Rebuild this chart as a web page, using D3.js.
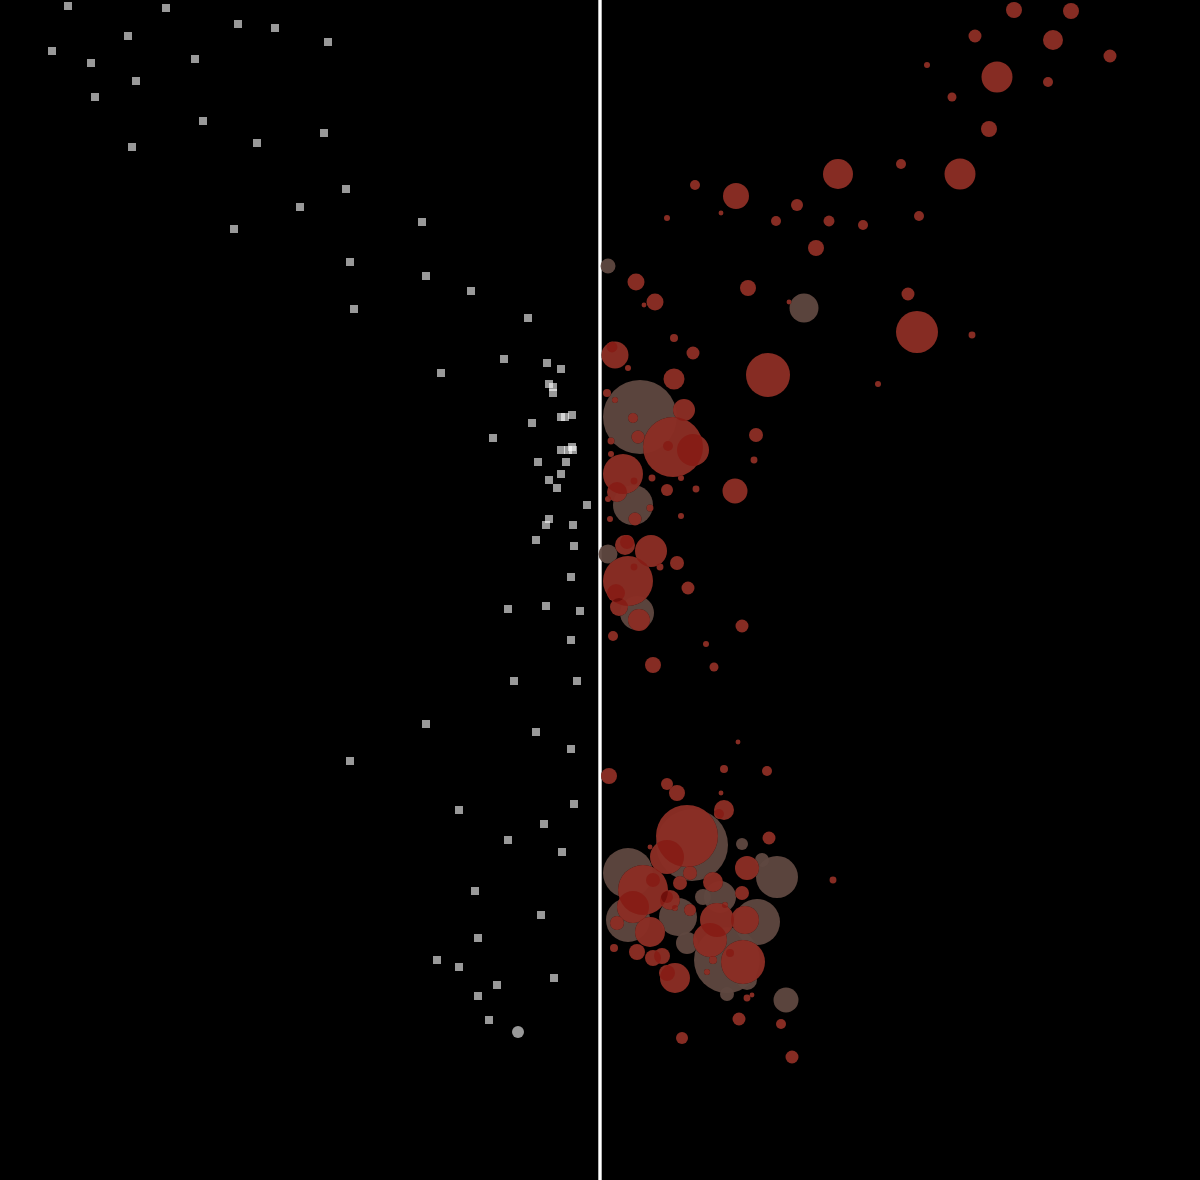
<!DOCTYPE html>
<html>
<head>
<meta charset="utf-8">
<script src="https://cdn.jsdelivr.net/npm/d3@7"></script>
<style>
  html, body { margin: 0; padding: 0; background: #000; }
  svg { display: block; background: #000; }
</style>
</head>
<body>
<svg id="chart" width="1200" height="1180"></svg>
<script>
// ---- data (x: signed offset from the centre axis, y: position down the page) ----
const leftX = [-53.2,-43.4,-36.2,-32.5,-47.2,-54.8,-50.9,-40.5,-27.2,-46.4,-50.5,-39.7,-27.6,-34.3,-46.8,-25.4,-30.0,-36.6,-25.0,-24.6,
  -17.8,-17.4,-12.9,-7.2,-9.6,-5.3,-3.9,-15.9,-5.1,-4.7,-4.7,-3.9,-3.5,-2.8,-6.8,-10.7,-3.9,-2.8,-2.7,-3.2,
  -6.2,-3.4,-3.9,-5.1,-4.3,-1.3,-5.1,-5.4,-2.7,-6.4,-2.6,-2.9,-9.2,-5.4,-2.0,-2.9,-8.6,-2.3,-17.4,-6.4,
  -2.9,-25.0,-14.1,-2.6,-5.6,-9.2,-3.8,-12.5,-5.9,-12.2,-16.3,-14.1,-10.3,-4.6,-12.2,-11.1];
const leftY = [0.6,0.8,2.4,2.8,3.6,5.1,6.3,5.9,4.2,8.1,9.7,12.1,13.3,14.3,14.7,18.9,20.7,22.9,26.2,30.9,
  22.2,27.6,29.1,31.8,35.9,36.3,36.9,37.3,38.4,38.7,39.3,41.7,41.7,41.5,42.3,43.8,45.0,44.7,45.0,45.0,
  46.2,46.2,47.4,48.0,48.8,50.5,51.9,52.5,52.5,54.0,54.6,57.7,60.9,60.6,61.1,64.0,68.1,68.1,72.4,73.2,
  74.9,76.1,81.0,80.4,82.4,84.0,85.2,89.1,91.5,93.8,96.0,96.7,98.5,97.8,99.6,102.0];
const leftDotX = [-8.2];
const leftDotY = [103.2];

const redX = [41.4,47.1,37.5,45.3,51.0,32.7,39.7,44.8,35.2,38.9,23.8,30.1,36.0,9.5,13.6,6.7,12.1,19.7,17.6,22.9,
  26.3,31.9,21.6,3.6,5.5,4.4,14.8,18.9,30.8,31.7,37.2,27.8,16.8,7.4,9.3,1.5,1.2,2.8,7.4,0.7,
  1.5,8.4,3.3,3.8,1.1,1.1,7.3,9.3,6.8,15.6,15.4,2.3,1.7,3.4,5.2,8.1,6.7,9.6,13.5,0.8,
  5.0,1.0,3.5,8.1,2.5,2.7,5.1,3.4,6.0,7.7,2.8,1.6,1.9,3.9,8.8,1.3,14.2,10.6,5.3,11.4,
  0.9,13.8,12.4,16.7,6.7,7.7,12.1,12.4,11.9,8.7,16.9,23.3,14.7,4.3,6.7,3.3,1.7,5.0,7.0,5.3,
  9.0,8.0,11.3,14.5,11.7,11.0,14.3,7.5,6.7,3.7,5.3,6.2,1.4,14.7,15.2,13.9,18.1,8.2,19.2,10.7,
  5.0,14.2,9.0,12.5,7.5,6.7,13.0,11.3];
const redY = [1.0,1.1,3.6,4.0,5.6,6.5,7.7,8.2,9.7,12.9,17.4,16.4,17.4,18.5,19.6,21.8,21.3,20.5,22.1,22.1,
  22.5,21.6,24.8,28.2,30.2,30.5,28.8,30.2,29.4,33.2,33.5,38.4,37.5,33.8,35.3,35.5,34.7,36.8,37.9,39.3,
  40.0,41.0,41.8,43.7,44.1,45.4,44.7,45.0,44.6,43.5,46.0,47.4,49.2,48.1,47.8,47.8,49.0,48.9,49.1,49.9,
  50.8,51.9,51.9,51.6,54.5,54.2,55.1,56.7,56.7,56.3,58.1,59.3,60.7,62.0,58.8,63.6,62.6,64.4,66.5,66.7,
  77.6,74.2,76.9,77.1,78.4,79.3,79.3,81.0,81.4,83.6,83.8,88.0,86.8,89.0,85.7,90.7,92.3,93.2,90.0,88.0,
  87.3,88.3,88.2,92.0,92.0,94.0,96.2,97.8,97.3,95.2,95.8,95.6,94.8,99.8,99.5,101.9,102.4,103.8,105.7,97.2,
  84.7,89.3,91.0,90.5,90.8,89.7,95.3,96.0];
const redSize = [64,64,42,100,42,9,240,25,20,64,225,25,240,25,169,9,6,36,25,30,
  25,25,64,72,72,6,64,6,42,441,12,9,484,16,42,182,30,9,110,16,
  9,121,25,42,12,9,900,256,25,49,12,400,100,12,12,9,36,12,156,9,
  12,9,42,9,100,49,256,12,12,49,625,81,81,121,42,25,42,9,64,20,
  64,6,16,25,36,64,6,100,25,961,42,12,144,625,289,256,49,225,100,49,
  49,49,100,196,289,289,484,225,64,64,64,64,16,12,6,42,25,36,42,9,
  6,49,36,9,9,36,16,16];

const brownX = [0.8,20.4,4.0,3.3,0.8,3.7,9.2,14.2,2.8,17.7,16.2,2.8,7.8,10.3,12.0,15.7,8.7,12.7,12.7,18.6,14.7];
const brownY = [26.6,30.8,41.7,50.5,55.4,61.3,84.5,84.4,87.3,87.7,86.0,92.0,91.7,89.7,89.7,92.2,94.3,96.0,99.4,100.0,98.0];
const brownSize = [56,210,1369,400,90,289,1296,36,625,441,49,484,361,64,256,529,121,1089,49,156,100];

// ---- scales ----
const W = 1200, H = 1180;
const x = d3.scaleLinear().domain([-60, 60]).range([0, W]);
const y = d3.scaleLinear().domain([0, 118]).range([0, H]);
const r = d3.scaleSqrt().domain([0, 1600]).range([0, 40]);

const svg = d3.select("#chart");

// centre axis
svg.append("line")
  .attr("x1", x(0)).attr("x2", x(0))
  .attr("y1", 0).attr("y2", H)
  .attr("stroke", "#fff").attr("stroke-width", 3.4);

// left series: squares
const sq = 8;
svg.append("g").selectAll("rect")
  .data(d3.range(leftX.length))
  .join("rect")
  .attr("x", i => x(leftX[i]) - sq / 2)
  .attr("y", i => y(leftY[i]) - sq / 2)
  .attr("width", sq).attr("height", sq)
  .attr("fill", "#fff").attr("fill-opacity", 0.6);

svg.append("g").selectAll("circle")
  .data(d3.range(leftDotX.length))
  .join("circle")
  .attr("cx", i => x(leftDotX[i]))
  .attr("cy", i => y(leftDotY[i]))
  .attr("r", 6)
  .attr("fill", "#fff").attr("fill-opacity", 0.6);

// right series: bubbles
const brownIdx = d3.range(brownX.length).sort((a, b) => brownSize[b] - brownSize[a]);
const redIdx = d3.range(redX.length).sort((a, b) => redSize[b] - redSize[a]);

svg.append("g").selectAll("circle")
  .data(brownIdx)
  .join("circle")
  .attr("cx", i => x(brownX[i]))
  .attr("cy", i => y(brownY[i]))
  .attr("r", i => r(brownSize[i]))
  .attr("fill", "#5f4840")
  .attr("fill-opacity", 0.95);

// red bubbles sit on a dark backing so they read the same over brown as over black
svg.append("g").selectAll("circle")
  .data(redIdx)
  .join("circle")
  .attr("cx", i => x(redX[i]))
  .attr("cy", i => y(redY[i]))
  .attr("r", i => r(redSize[i]))
  .attr("fill", "#000")
  .attr("fill-opacity", 0.85);

svg.append("g").style("isolation", "isolate")
  .selectAll("circle")
  .data(redIdx)
  .join("circle")
  .attr("cx", i => x(redX[i]))
  .attr("cy", i => y(redY[i]))
  .attr("r", i => r(redSize[i]))
  .attr("fill", "#b03a2e")
  .attr("fill-opacity", 0.76)
  .style("mix-blend-mode", "multiply");
</script>
</body>
</html>
